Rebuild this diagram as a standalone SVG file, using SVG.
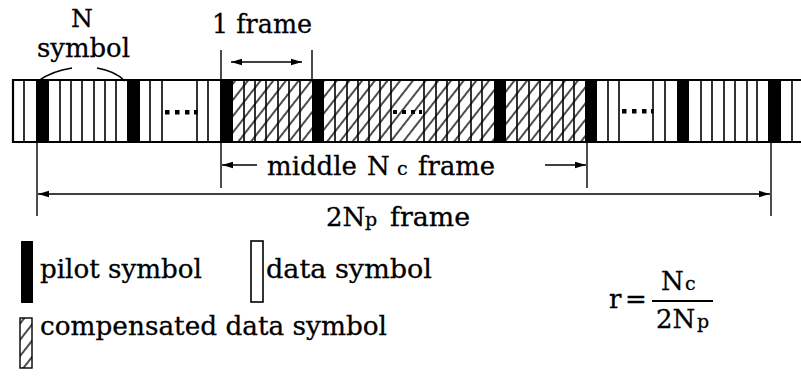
<svg xmlns="http://www.w3.org/2000/svg" width="801" height="377" viewBox="0 0 801 377">
<style>
text{font-family:"DejaVu Serif","Liberation Serif",serif;font-size:26px;fill:#000;stroke:#000;stroke-width:0.3}
.sub{font-size:19px}
.cell{stroke:#000;stroke-width:1.6;fill:none}
.pilot{fill:#000}
.con{stroke:#000;stroke-width:1.4;fill:none}
.dot{fill:#000}
</style>
<defs>
<pattern id="hatch" patternUnits="userSpaceOnUse" width="10" height="10" patternTransform="rotate(38)">
<rect width="10" height="10" fill="#fff"/>
<line x1="5" y1="0" x2="5" y2="10" stroke="#000" stroke-width="1.4"/>
</pattern>
<marker id="ah" markerUnits="userSpaceOnUse" markerWidth="11" markerHeight="8" refX="11" refY="4" orient="auto-start-reverse">
<path d="M0,0.8 L11,4 L0,7.2 z" fill="#000"/>
</marker>
</defs>
<rect width="801" height="377" fill="#fff"/>

<g id="strip">
<rect x="13" y="80" width="788" height="62" fill="#fff"/>
<rect x="233" y="80" width="79" height="62" fill="url(#hatch)"/>
<rect x="324" y="80" width="170" height="62" fill="url(#hatch)"/>
<rect x="506" y="80" width="79" height="62" fill="url(#hatch)"/>
<path class="cell" d="M24,80V142M60,80V142M71,80V142M82,80V142M94,80V142M105,80V142M116,80V142M150,80V142M162,80V142M197,80V142M208,80V142M244,80V142M255,80V142M266,80V142M278,80V142M289,80V142M300,80V142M335,80V142M347,80V142M358,80V142M369,80V142M380,80V142M391,80V142M424,80V142M436,80V142M447,80V142M459,80V142M471,80V142M482,80V142M517,80V142M529,80V142M540,80V142M552,80V142M563,80V142M574,80V142M608,80V142M619,80V142M653,80V142M665,80V142M701,80V142M712,80V142M724,80V142M735,80V142M747,80V142M757,80V142M792,80V142"/>
<rect class="pilot" x="36" y="80" width="13" height="62"/>
<rect class="pilot" x="127" y="80" width="13" height="62"/>
<rect class="pilot" x="220" y="80" width="13" height="62"/>
<rect class="pilot" x="312" y="80" width="12" height="62"/>
<rect class="pilot" x="494" y="80" width="12" height="62"/>
<rect class="pilot" x="585" y="80" width="12" height="62"/>
<rect class="pilot" x="677" y="80" width="12" height="62"/>
<rect class="pilot" x="768" y="80" width="13" height="62"/>
<path d="M801,80H13V142H801" stroke="#000" stroke-width="2.2" fill="none"/>
<g id="dots-left"><rect class="dot" x="165" y="110" width="4.5" height="4.5"/><rect class="dot" x="175" y="110" width="4.5" height="4.5"/><rect class="dot" x="185" y="110" width="4.5" height="4.5"/><rect class="dot" x="194" y="110" width="3.5" height="4.5"/></g>
<g id="dots-mid"><rect class="dot" x="393" y="110" width="4" height="4"/><rect class="dot" x="402" y="110" width="4" height="4"/><rect class="dot" x="411" y="110" width="4" height="4"/><rect class="dot" x="419" y="110" width="3" height="4"/></g>
<g id="dots-right"><rect class="dot" x="622" y="109" width="4.5" height="4.5"/><rect class="dot" x="632" y="109" width="4.5" height="4.5"/><rect class="dot" x="642" y="109" width="4.5" height="4.5"/><rect class="dot" x="651" y="109" width="2.5" height="4.5"/></g>
</g>

<g id="label-n-symbol">
<text x="82" y="27" text-anchor="middle" style="font-size:25px">N</text>
<text x="37" y="57" textLength="93" lengthAdjust="spacingAndGlyphs">symbol</text>
</g>
<g id="label-1frame">
<text x="212" y="33" textLength="100" lengthAdjust="spacingAndGlyphs">1 frame</text>
</g>
<g id="label-middle">
<text x="267" y="175">middle</text>
<text x="367" y="175">N</text>
<text x="397" y="175" class="sub">c</text>
<text x="418" y="175" textLength="77" lengthAdjust="spacingAndGlyphs">frame</text>
</g>
<g id="label-2np">
<text x="326" y="226">2N</text>
<text x="365" y="226" class="sub">p</text>
<text x="390" y="226" textLength="80" lengthAdjust="spacingAndGlyphs">frame</text>
</g>

<g id="connectors">
<path class="con" d="M38,81 Q52,71 72,68"/>
<path class="con" d="M97,68 Q115,71 125,81"/>
<path class="con" d="M221,50V80M312,50V80"/>
<line class="con" x1="231" y1="62" x2="302" y2="62" marker-start="url(#ah)" marker-end="url(#ah)"/>
<path class="con" d="M37,142V216M221,142V188M587,142V188M771,142V216"/>
<line class="con" x1="257" y1="165" x2="222" y2="165" marker-end="url(#ah)"/>
<line class="con" x1="545" y1="165" x2="586" y2="165" marker-end="url(#ah)"/>
<line class="con" x1="38" y1="194" x2="770" y2="194" marker-start="url(#ah)" marker-end="url(#ah)"/>
</g>

<g id="legend-pilot">
<rect x="21" y="241" width="12" height="62" fill="#000"/>
<text x="40" y="278" textLength="162" lengthAdjust="spacingAndGlyphs">pilot symbol</text>
</g>
<g id="legend-data">
<rect x="251" y="241" width="12" height="61" fill="#fff" stroke="#000" stroke-width="1.6"/>
<text x="266" y="278" textLength="166" lengthAdjust="spacingAndGlyphs">data symbol</text>
</g>
<g id="legend-comp">
<rect x="20" y="318" width="12" height="50" fill="url(#hatch)" stroke="#000" stroke-width="1.4"/>
<text x="40" y="335" textLength="347" lengthAdjust="spacingAndGlyphs">compensated data symbol</text>
</g>

<g id="formula">
<text x="609" y="308">r</text>
<text x="625" y="308">=</text>
<text x="661" y="290">N</text>
<text x="685" y="290" class="sub">c</text>
<line x1="652" y1="301" x2="713" y2="301" stroke="#000" stroke-width="2"/>
<text x="656" y="328">2N</text>
<text x="697" y="328" class="sub">p</text>
</g>
</svg>
